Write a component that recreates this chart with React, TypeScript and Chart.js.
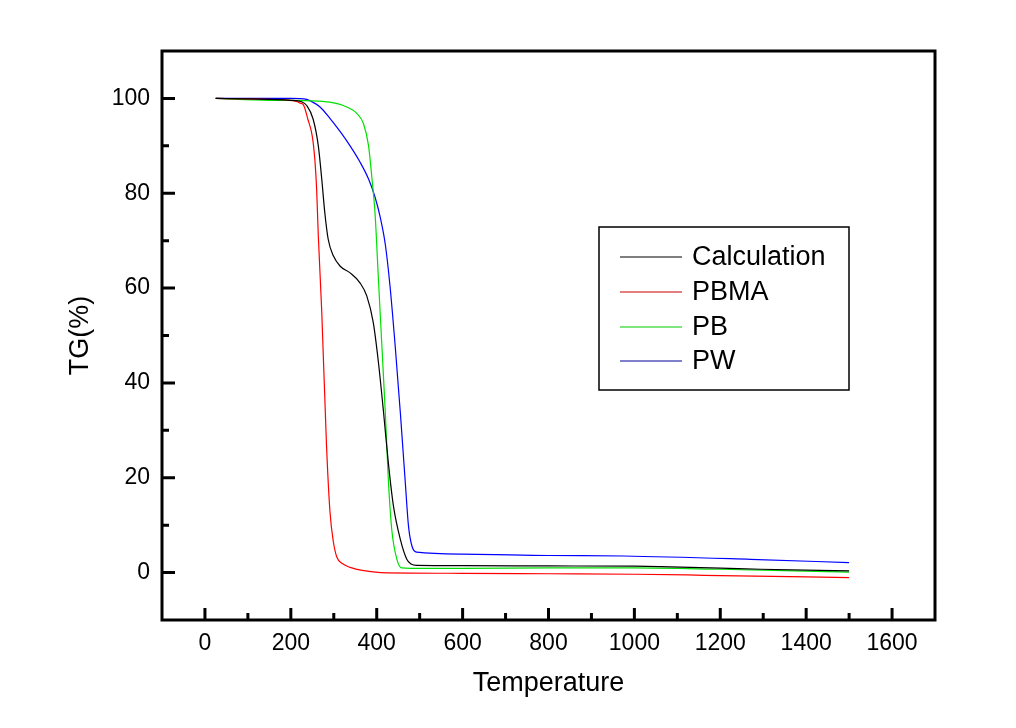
import { useEffect, useRef } from "react";
import { Chart, registerables } from "chart.js";

Chart.register(...registerables);

// ---- Data ----
const calcT = [25, 100, 200, 225, 237, 252, 264, 272, 279, 287, 299, 315, 338, 361, 377, 392, 404, 416, 427, 439, 455, 470, 480, 493, 600, 800, 1000, 1060, 1200, 1294, 1500];
const calcTG = [100, 99.9, 99.6, 99.3, 98.5, 95.6, 90, 83, 76, 70.3, 66.8, 64.6, 63.2, 61.1, 58.3, 52.7, 44.3, 33.7, 23.2, 14, 7, 2.8, 1.8, 1.5, 1.45, 1.4, 1.35, 1.26, 0.95, 0.7, 0.35];

const pbmaT = [25, 100, 200, 215, 222, 229, 240, 250, 256, 260, 264, 272, 283, 291, 299, 307, 320, 338, 370, 410, 600, 800, 1000, 1123, 1200, 1500];
const pbmaTG = [100, 99.9, 99.6, 99.3, 99.0, 98.7, 95.5, 92, 87, 81, 71, 55, 27, 13, 6.5, 3.3, 1.9, 1.1, 0.4, 0, -0.15, -0.25, -0.35, -0.5, -0.65, -1.05];

const pbT = [25, 150, 245, 291, 330, 353, 369, 381, 389, 396, 404, 412, 420, 427, 435, 447, 458, 480, 600, 800, 1000, 1200, 1500];
const pbTG = [100, 99.6, 99.5, 99.2, 98.2, 96.9, 94.7, 90, 83, 75.9, 61.8, 47.8, 33.7, 19.7, 9.1, 2.8, 1.0, 0.9, 0.9, 1.0, 1.0, 0.7, 0.1];

const pwT = [25, 200, 237, 245, 268, 291, 315, 338, 361, 381, 396, 408, 420, 431, 443, 455, 466, 474, 482, 493, 600, 800, 975, 1270, 1500];
const pwTG = [100, 100, 99.8, 99.5, 98.2, 95.8, 93.0, 90.0, 86.6, 83.0, 79.2, 75.0, 69.2, 60.4, 47.8, 33.7, 19.7, 9.8, 5.6, 4.3, 3.9, 3.6, 3.5, 2.8, 2.1];

const seriesLabels = ["Calculation", "PBMA", "PB", "PW"];
const seriesColors = ["#000000", "#ff0000", "#00e000", "#0000ff"];
const legendColors = ["#000000", "#cc0000", "#00cc00", "#000099"];

const xMajorTicks = [0, 200, 400, 600, 800, 1000, 1200, 1400, 1600];
const xMinorTicks = [100, 300, 500, 700, 900, 1100, 1300, 1500];
const yMajorTicks = [0, 20, 40, 60, 80, 100];
const yMinorTicks = [10, 30, 50, 70, 90];

const xTitle = "Temperature";
const yTitle = "TG(%)";

const FONT = "'Liberation Sans', Arial, sans-serif";

const zip = (xs: number[], ys: number[]) => xs.map((x, i) => ({ x, y: ys[i] }));

const framePlugin = {
  id: "frameTicksLegend",
  afterDraw(chart: any) {
    const { ctx, chartArea: a, scales } = chart;
    const xs = scales.x;
    const ys = scales.y;
    ctx.save();
    ctx.strokeStyle = "#000";
    ctx.lineWidth = 3;
    ctx.lineCap = "butt";
    ctx.strokeRect(a.left, a.top, a.right - a.left, a.bottom - a.top);

    ctx.beginPath();
    xMajorTicks.forEach((v) => {
      const p = xs.getPixelForValue(v);
      ctx.moveTo(p, a.bottom);
      ctx.lineTo(p, a.bottom - 12);
    });
    xMinorTicks.forEach((v) => {
      const p = xs.getPixelForValue(v);
      ctx.moveTo(p, a.bottom);
      ctx.lineTo(p, a.bottom - 7);
    });
    yMajorTicks.forEach((v) => {
      const p = ys.getPixelForValue(v);
      ctx.moveTo(a.left, p);
      ctx.lineTo(a.left + 13, p);
    });
    yMinorTicks.forEach((v) => {
      const p = ys.getPixelForValue(v);
      ctx.moveTo(a.left, p);
      ctx.lineTo(a.left + 7, p);
    });
    ctx.stroke();

    // legend
    const bx = 599, by = 227, bw = 250, bh = 163;
    ctx.lineWidth = 1.5;
    ctx.strokeRect(bx, by, bw, bh);
    const rowY = [257, 292, 327, 361];
    ctx.font = `27px ${FONT}`;
    ctx.textBaseline = "middle";
    ctx.textAlign = "left";
    seriesLabels.forEach((label, i) => {
      ctx.beginPath();
      ctx.strokeStyle = legendColors[i];
      ctx.lineWidth = 1.2;
      ctx.moveTo(620, rowY[i]);
      ctx.lineTo(682, rowY[i]);
      ctx.stroke();
      ctx.fillStyle = "#000";
      ctx.fillText(label, 692, rowY[i] + 1);
    });
    ctx.restore();
  },
};

export default function App() {
  const ref = useRef<HTMLCanvasElement | null>(null);

  useEffect(() => {
    if (!ref.current) return;
    const data = [zip(calcT, calcTG), zip(pbmaT, pbmaTG), zip(pbT, pbTG), zip(pwT, pwTG)];
    const chart = new Chart(ref.current, {
      type: "line",
      data: {
        datasets: seriesLabels.map((label, i) => ({
          label,
          data: data[i],
          borderColor: seriesColors[i],
          backgroundColor: seriesColors[i],
          borderWidth: 1.2,
          pointRadius: 0,
          fill: false,
          cubicInterpolationMode: "monotone" as const,
        })),
      },
      options: {
        responsive: false,
        animation: false,
        layout: { padding: { top: 51, right: 81, left: 0, bottom: 0 } },
        plugins: { legend: { display: false }, tooltip: { enabled: false } },
        scales: {
          x: {
            type: "linear",
            min: -100,
            max: 1700,
            grid: { display: false, drawTicks: false },
            border: { display: false },
            afterBuildTicks: (s: any) => {
              s.ticks = xMajorTicks.map((v) => ({ value: v }));
            },
            afterFit: (s: any) => {
              s.height = 108;
            },
            ticks: {
              font: { family: FONT, size: 23 },
              color: "#000",
              padding: 10,
              maxRotation: 0,
              autoSkip: false,
              callback: (v: any) => String(v),
            },
            title: {
              display: true,
              text: xTitle,
              color: "#000",
              font: { family: FONT, size: 27 },
              padding: { top: 0, bottom: 28 },
            },
          },
          y: {
            type: "linear",
            min: -10,
            max: 110,
            grid: { display: false, drawTicks: false },
            border: { display: false },
            afterBuildTicks: (s: any) => {
              s.ticks = yMajorTicks.map((v) => ({ value: v }));
            },
            afterFit: (s: any) => {
              s.width = 162;
            },
            ticks: {
              font: { family: FONT, size: 23 },
              color: "#000",
              padding: 12,
              autoSkip: false,
              callback: (v: any) => String(v),
            },
            title: {
              display: true,
              text: yTitle,
              color: "#000",
              font: { family: FONT, size: 27 },
              padding: { top: 64, bottom: 0 },
            },
          },
        },
      },
      plugins: [framePlugin],
    });
    return () => chart.destroy();
  }, []);

  return (
    <div style={{ position: "fixed", left: 0, top: 0, width: 1016, height: 728, background: "#fff" }}>
      <canvas ref={ref} width={1016} height={728} style={{ display: "block" }} />
    </div>
  );
}
